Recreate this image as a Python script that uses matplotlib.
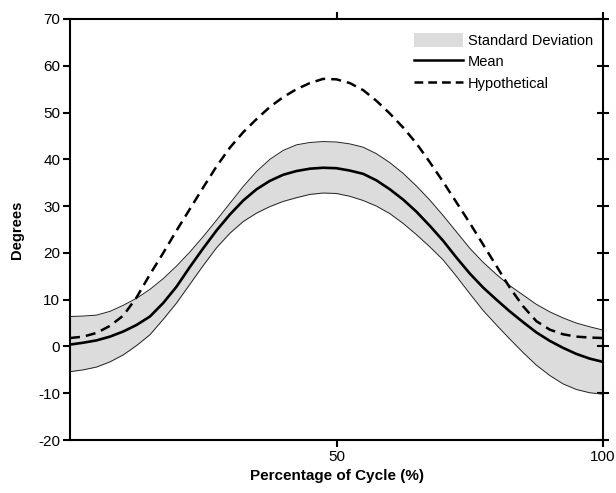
import matplotlib
matplotlib.use("Agg")
import matplotlib.pyplot as plt
from matplotlib.patches import Patch
from matplotlib.lines import Line2D
from matplotlib import font_manager

avail = {f.name for f in font_manager.fontManager.ttflist}
narrow = 'Liberation Sans Narrow' if 'Liberation Sans Narrow' in avail else 'Liberation Sans'
plt.rcParams['font.family'] = ['Liberation Sans', 'DejaVu Sans']
plt.rcParams['axes.unicode_minus'] = False

cycle = [0, 2.5, 5, 7.5, 10, 12.5, 15, 17.5, 20, 22.5, 25, 27.5, 30, 32.5, 35, 37.5, 40, 42.5,
         45, 47.5, 50, 52.5, 55, 57.5, 60, 62.5, 65, 67.5, 70, 72.5, 75, 77.5, 80, 82.5, 85,
         87.5, 90, 92.5, 95, 97.5, 100]
mean = [0.4, 0.8, 1.3, 2.1, 3.2, 4.6, 6.4, 9.3, 12.8, 17.0, 21.0, 24.8, 28.2, 31.2, 33.6, 35.4,
        36.7, 37.5, 38.0, 38.2, 38.1, 37.6, 36.9, 35.5, 33.6, 31.4, 28.8, 25.8, 22.6, 19.0,
        15.6, 12.6, 10.0, 7.5, 5.2, 3.0, 1.2, -0.3, -1.6, -2.6, -3.3]
sd_upper = [6.4, 6.5, 6.7, 7.5, 8.8, 10.3, 12.2, 14.5, 17.2, 20.2, 23.5, 27.0, 30.6, 34.2, 37.4,
            40.0, 41.9, 43.1, 43.6, 43.8, 43.7, 43.3, 42.6, 41.2, 39.3, 37.0, 34.3, 31.3, 28.0,
            24.5, 21.0, 18.0, 15.4, 13.0, 11.0, 9.0, 7.4, 6.1, 5.0, 4.2, 3.5]
sd_lower = [-5.4, -5.0, -4.4, -3.3, -1.8, 0.2, 2.5, 5.8, 9.3, 13.3, 17.3, 21.1, 24.2, 26.7, 28.5,
            29.9, 31.0, 31.8, 32.5, 32.8, 32.7, 32.1, 31.2, 30.0, 28.4, 26.3, 23.9, 21.3, 18.5,
            15.0, 11.3, 7.7, 4.6, 1.6, -1.3, -4.0, -6.2, -8.0, -9.2, -9.9, -10.2]
hypothetical = [1.8, 2.1, 2.9, 4.4, 6.6, 10.5, 15.4, 20.0, 24.8, 29.4, 34.0, 38.5, 42.5, 45.8,
                48.6, 51.2, 53.3, 55.0, 56.3, 57.2, 57.1, 56.3, 54.8, 52.5, 49.8, 46.8, 43.4,
                39.4, 35.2, 30.8, 26.4, 21.8, 17.2, 12.6, 8.6, 5.4, 3.6, 2.6, 2.1, 1.9, 1.8]

legend_labels = ['Standard Deviation', 'Mean', 'Hypothetical']
xticks = [50, 100]
yticks = list(range(-20, 71, 10))

fig = plt.figure(figsize=(6.16, 4.93), dpi=100)
ax = fig.add_axes([70/616, 1-440/493, 533/616, 421/493])

ax.fill_between(cycle, sd_lower, sd_upper, color='#dcdcdc', lw=0)
ax.plot(cycle, sd_upper, color='#222222', lw=0.7)
ax.plot(cycle, sd_lower, color='#222222', lw=0.7)
ax.plot(cycle, mean, color='black', lw=1.9)
ax.plot(cycle, hypothetical, color='black', lw=1.8, dashes=(4, 2.4))

ax.set_xlim(0, 100)
ax.set_ylim(-20, 70)
ax.set_xticks(xticks)
ax.set_yticks(yticks)
for s in ax.spines.values():
    s.set_linewidth(1.5)

ax.tick_params(axis='both', which='major', width=1.5, length=5, labelsize=11, pad=2)
ax.tick_params(axis='x', top=True, direction='out')
ax.tick_params(axis='y', right=True, direction='out')
for lab in ax.get_xticklabels() + ax.get_yticklabels():
    lab.set_fontfamily([narrow, 'Liberation Sans'])
# right ticks cross the spine
for t in ax.yaxis.get_major_ticks():
    t.tick2line.set_marker('_')
    t.tick2line.set_markersize(9)
    t.tick2line.set_markeredgewidth(1.5)

ax.set_xlabel('Percentage of Cycle (%)', fontweight='bold', fontsize=11,
              family=[narrow, 'Liberation Sans'], labelpad=4)
ax.set_ylabel('Degrees', fontweight='bold', fontsize=10.5,
              family=[narrow, 'Liberation Sans'], labelpad=10)

handles = [Patch(facecolor='#dcdcdc', edgecolor='none'),
           Line2D([], [], color='black', lw=1.8),
           Line2D([], [], color='black', lw=1.8, dashes=(3.5, 2.0))]
leg = ax.legend(handles, legend_labels, loc='upper left', bbox_to_anchor=(0.645, 0.967),
                frameon=False, fontsize=10.5, handlelength=3.4, handleheight=1.1,
                handletextpad=0.3, labelspacing=0.45, borderpad=0, borderaxespad=0)

fig.savefig('out.png', dpi=100)
